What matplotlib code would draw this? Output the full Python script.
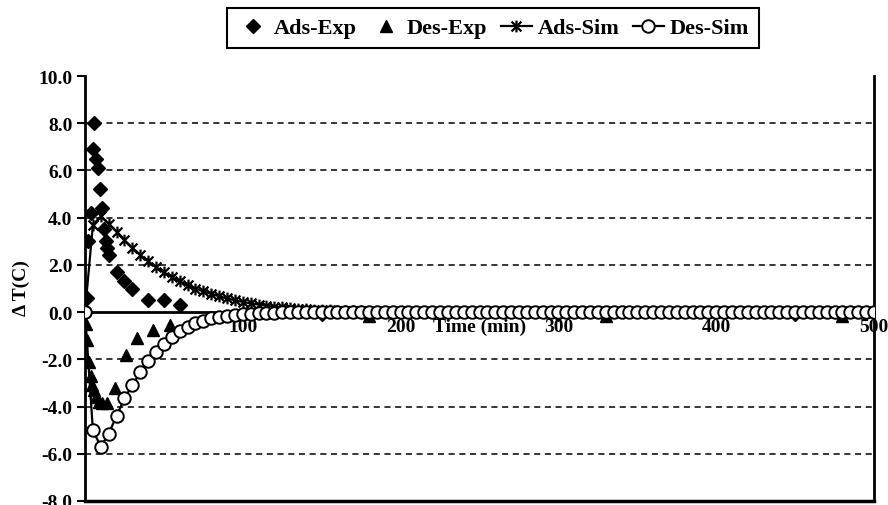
import numpy as np
import matplotlib
matplotlib.use("Agg")
import matplotlib.pyplot as plt
from matplotlib.path import Path

# experimental points (time in min, delta T in C)
ads_exp_t = [1, 2, 3.5, 5, 6, 7, 8, 9.5, 11, 12, 13, 14, 15, 20, 25, 30, 40, 50, 60, 150, 300, 450]
ads_exp_v = [0.6, 3.0, 4.2, 6.9, 8.0, 6.5, 6.1, 5.2, 4.4, 3.5, 3.0, 2.7, 2.4, 1.7, 1.3, 1.0, 0.5, 0.5, 0.3,
             -0.1, -0.1, -0.1]

des_exp_t = [0.5, 1.5, 2.5, 3.5, 4.5, 5.5, 7, 9, 11, 14, 19, 26, 33, 43, 54, 180, 330, 480]
des_exp_v = [-0.5, -1.2, -2.1, -2.7, -3.1, -3.3, -3.6, -3.8, -3.85, -3.85, -3.2, -1.8, -1.1, -0.75, -0.55,
             -0.15, -0.15, -0.15]

# simulated curves, every 5 min
sim_t = [0, 5, 10, 15, 20, 25, 30, 35, 40, 45, 50, 55, 60, 65, 70, 75, 80, 85, 90, 95,
         100, 105, 110, 115, 120, 125, 130, 135, 140, 145, 150, 155, 160, 165, 170, 175, 180, 185, 190, 195,
         200, 205, 210, 215, 220, 225, 230, 235, 240, 245, 250, 255, 260, 265, 270, 275, 280, 285, 290, 295,
         300, 305, 310, 315, 320, 325, 330, 335, 340, 345, 350, 355, 360, 365, 370, 375, 380, 385, 390, 395,
         400, 405, 410, 415, 420, 425, 430, 435, 440, 445, 450, 455, 460, 465, 470, 475, 480, 485, 490, 495,
         500]
ads_sim = [0.0, 3.70, 4.05, 3.75, 3.40, 3.05, 2.72, 2.42, 2.15, 1.90, 1.68, 1.48, 1.30, 1.14, 1.00, 0.88, 0.77, 0.67, 0.58, 0.50,
           0.43, 0.37, 0.32, 0.27, 0.23, 0.20, 0.17, 0.14, 0.12, 0.10, 0.08, 0.07, 0.06, 0.05, 0.04, 0.03, 0.02, 0.02, 0.01, 0.01,
           0.0, 0.0, 0.0, 0.0, 0.0, 0.0, 0.0, 0.0, 0.0, 0.0, 0.0, 0.0, 0.0, 0.0, 0.0, 0.0, 0.0, 0.0, 0.0, 0.0,
           0.0, 0.0, 0.0, 0.0, 0.0, 0.0, 0.0, 0.0, 0.0, 0.0, 0.0, 0.0, 0.0, 0.0, 0.0, 0.0, 0.0, 0.0, 0.0, 0.0,
           0.0, 0.0, 0.0, 0.0, 0.0, 0.0, 0.0, 0.0, 0.0, 0.0, 0.0, 0.0, 0.0, 0.0, 0.0, 0.0, 0.0, 0.0, 0.0, 0.0,
           0.0]
des_sim = [0.0, -5.0, -5.7, -5.15, -4.4, -3.65, -3.1, -2.55, -2.08, -1.7, -1.35, -1.05, -0.8, -0.62, -0.47, -0.36, -0.27, -0.2, -0.15, -0.11,
           -0.08, -0.06, -0.045, -0.03, -0.02, -0.015, -0.01, -0.01, -0.005, 0.0, 0.0, 0.0, 0.0, 0.0, 0.0, 0.0, 0.0, 0.0, 0.0, 0.0,
           0.0, 0.0, 0.0, 0.0, 0.0, 0.0, 0.0, 0.0, 0.0, 0.0, 0.0, 0.0, 0.0, 0.0, 0.0, 0.0, 0.0, 0.0, 0.0, 0.0,
           0.0, 0.0, 0.0, 0.0, 0.0, 0.0, 0.0, 0.0, 0.0, 0.0, 0.0, 0.0, 0.0, 0.0, 0.0, 0.0, 0.0, 0.0, 0.0, 0.0,
           0.0, 0.0, 0.0, 0.0, 0.0, 0.0, 0.0, 0.0, 0.0, 0.0, 0.0, 0.0, 0.0, 0.0, 0.0, 0.0, 0.0, 0.0, 0.0, 0.0,
           0.0]

y_ticks = [-8, -6, -4, -2, 0, 2, 4, 6, 8, 10]
x_ticks = [100, 200, 300, 400, 500]

plt.rcParams['font.family'] = ['Liberation Serif', 'DejaVu Serif']
plt.rcParams['font.weight'] = 'bold'

# excel style star marker: X with a vertical bar
star = Path([(-1, -1), (1, 1), (-1, 1), (1, -1), (0, -1.2), (0, 1.2)],
            [Path.MOVETO, Path.LINETO, Path.MOVETO, Path.LINETO, Path.MOVETO, Path.LINETO])

fig = plt.figure(figsize=(8.88, 5.06), dpi=100)
ax = fig.add_axes([85 / 888, 4 / 506, 789 / 888, 425 / 506])

for y in [-6, -4, -2, 2, 4, 6, 8]:
    ax.axhline(y, color='black', lw=1.1, ls=(0, (4, 3)), zorder=1)

ax.plot(ads_exp_t, ads_exp_v, ls='none', marker='D', ms=7.5, color='black', label='Ads-Exp', zorder=3)
ax.plot(des_exp_t, des_exp_v, ls='none', marker='^', ms=9, color='black', label='Des-Exp', zorder=3)
ax.plot(sim_t, ads_sim, color='black', lw=1.6, marker=star, ms=8.5, mew=1.6, label='Ads-Sim', zorder=4)
ax.plot(sim_t, des_sim, color='black', lw=1.6, marker='o', ms=9, mfc='white', mec='black', mew=1.4,
        label='Des-Sim', zorder=5)

ax.set_xlim(0, 500)
ax.set_ylim(-8, 10)
ax.set_yticks(y_ticks)
ax.set_yticklabels([f"{v:.1f}" for v in y_ticks])
ax.set_xticks(x_ticks)
ax.set_xticklabels([str(v) for v in x_ticks])

ax.spines['bottom'].set_position(('data', 0))
ax.spines['bottom'].set_linewidth(2)
ax.spines['left'].set_linewidth(2)
ax.spines['right'].set_linewidth(2)
ax.spines['top'].set_visible(False)
ax.axhline(-8, color='black', lw=2.5, clip_on=False, zorder=6)

ax.tick_params(axis='y', direction='out', length=6, width=1.5, labelsize=14, pad=3)
ax.tick_params(axis='x', direction='out', length=0, labelsize=14, pad=4)

ax.text(250, -0.25, 'Time (min)', ha='center', va='top', fontsize=14, fontweight='bold')
fig.text(0.024, 1 - 288 / 506, 'Δ T(C)', rotation=90, ha='center', va='center', fontsize=14, fontweight='bold')

leg = fig.legend(loc='center', bbox_to_anchor=(493 / 888, 1 - 29 / 506), ncol=4, fontsize=16,
                 handlelength=1.4, handletextpad=0.25, columnspacing=0.6, borderpad=0.45,
                 fancybox=False, edgecolor='black', framealpha=1)
leg.get_frame().set_linewidth(1.5)

fig.savefig('out.png', dpi=100)
